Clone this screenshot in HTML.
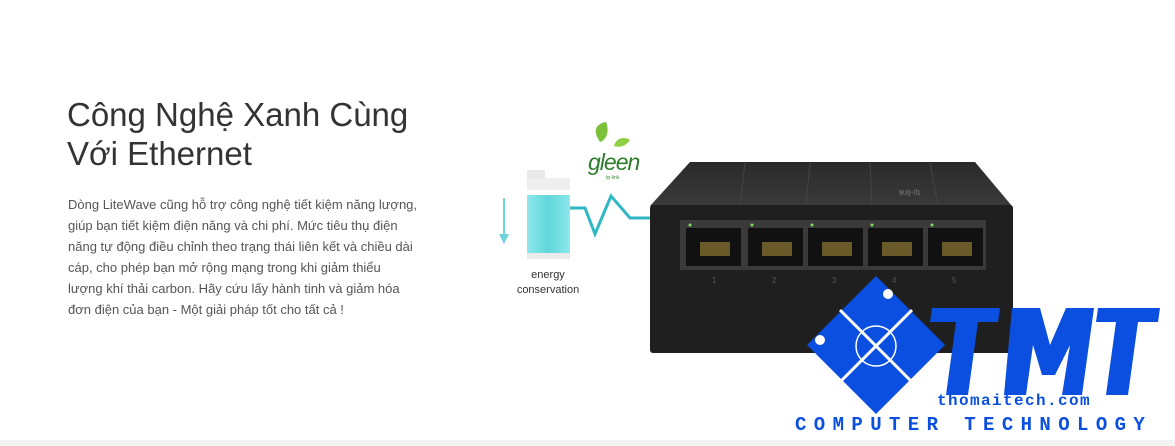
<!DOCTYPE html>
<html><head><meta charset="utf-8"><style>
body{margin:0;width:1175px;height:446px;background:#fff;position:relative;overflow:hidden;font-family:"Liberation Sans",sans-serif}
.t{position:absolute;left:67px;top:95px;font-size:33px;line-height:39px;color:#333;white-space:nowrap}
.p{position:absolute;left:68px;top:194px;font-size:13px;line-height:21px;color:#555;white-space:nowrap}
.bot{position:absolute;left:0;top:440px;width:1175px;height:6px;background:#f2f4f4}
</style></head><body>
<div class="t">Công Nghệ Xanh Cùng<br>Với Ethernet</div>
<div class="p">Dòng LiteWave cũng hỗ trợ công nghệ tiết kiệm năng lượng,<br>giúp bạn tiết kiệm điện năng và chi phí. Mức tiêu thụ điện<br>năng tự động điều chỉnh theo trạng thái liên kết và chiều dài<br>cáp, cho phép bạn mở rộng mạng trong khi giảm thiểu<br>lượng khí thải carbon. Hãy cứu lấy hành tinh và giảm hóa<br>đơn điện của bạn - Một giải pháp tốt cho tất cả !</div>
<svg width="1175" height="446" style="position:absolute;left:0;top:0">
<defs><linearGradient id="bat" x1="0" x2="1"><stop offset="0" stop-color="#8ee8ec"/><stop offset=".5" stop-color="#5fd6dc"/><stop offset="1" stop-color="#8ee8ec"/></linearGradient>
<linearGradient id="top" x1="0" y1="0" x2="0" y2="1"><stop offset="0" stop-color="#2a2a2a"/><stop offset="1" stop-color="#3a3a3a"/></linearGradient></defs>
<rect x="527" y="170" width="18" height="8" fill="#e8e8e8"/>
<rect x="527" y="178" width="43" height="12" fill="#eee"/>
<rect x="527" y="195" width="43" height="58" fill="url(#bat)"/>
<rect x="527" y="253" width="43" height="6" fill="#eaeaea"/>
<line x1="504" y1="198" x2="504" y2="238" stroke="#6dd3dc" stroke-width="2"/>
<path d="M499 234 L504 244 L509 234Z" fill="#6dd3dc"/>
<text x="548" y="278" font-size="11" fill="#333" text-anchor="middle">energy</text>
<text x="548" y="293" font-size="11" fill="#333" text-anchor="middle">conservation</text>
<polyline points="570,208 585,208 595,234 611,196 630,218 652,218" fill="none" stroke="#2fb7c4" stroke-width="3"/>
<path d="M600 142 C592 130 596 124 606 122 C610 132 606 140 600 142Z" fill="#7bbf3a"/>
<path d="M614 146 C616 138 624 136 630 140 C626 146 620 148 614 146Z" fill="#8fcf45"/>
<text x="588" y="170" font-size="23" font-style="italic" fill="#2d7d2d" letter-spacing="-1">gleen</text>
<text x="606" y="179" font-size="5" fill="#3a8a3a">tp-link</text>
<polygon points="650,206 690,162 975,162 1012,206" fill="url(#top)"/>
<g stroke="#444" stroke-width="1"><line x1="745" y1="163" x2="740" y2="205"/><line x1="810" y1="163" x2="806" y2="205"/><line x1="870" y1="163" x2="872" y2="205"/><line x1="930" y1="163" x2="938" y2="205"/></g>
<rect x="650" y="205" width="363" height="148" rx="3" fill="#1f1f1f"/>
<rect x="680" y="220" width="306" height="50" fill="#3a3a3a"/>
<g fill="#111">
<rect x="686" y="228" width="55" height="38"/><rect x="748" y="228" width="55" height="38"/><rect x="808" y="228" width="55" height="38"/><rect x="868" y="228" width="55" height="38"/><rect x="928" y="228" width="55" height="38"/>
</g>
<g fill="#6a5a2a"><rect x="700" y="242" width="30" height="14"/><rect x="762" y="242" width="30" height="14"/><rect x="822" y="242" width="30" height="14"/><rect x="882" y="242" width="30" height="14"/><rect x="942" y="242" width="30" height="14"/></g>
<g fill="#7ee05a"><circle cx="690" cy="225" r="1.5"/><circle cx="752" cy="225" r="1.5"/><circle cx="812" cy="225" r="1.5"/><circle cx="872" cy="225" r="1.5"/><circle cx="932" cy="225" r="1.5"/></g>
<g font-size="8" fill="#555"><text x="712" y="283">1</text><text x="772" y="283">2</text><text x="832" y="283">3</text><text x="892" y="283">4</text><text x="952" y="283">5</text></g>
<text x="880" y="196" font-size="8" fill="#777" transform="rotate(180 900 193)">tp-link</text>
<polygon points="876,276 945,345 876,414 807,345" fill="#0a4fe0"/>
<line x1="840" y1="310" x2="912" y2="382" stroke="#fff" stroke-width="3"/>
<line x1="912" y1="310" x2="840" y2="382" stroke="#fff" stroke-width="3"/>
<circle cx="876" cy="346" r="20" fill="none" stroke="#fff" stroke-width="1.5"/>
<circle cx="888" cy="294" r="5" fill="#fff"/><circle cx="820" cy="340" r="5" fill="#fff"/>
<g fill="#0a4fe0">
<polygon points="932,308 1000,308 998,322 978,322 968,395 946,395 956,322 930,322"/>
<polygon points="1012,308 1040,308 1050,345 1066,308 1094,308 1082,395 1062,395 1070,345 1055,375 1042,375 1033,345 1026,395 1004,395"/>
<polygon points="1098,308 1160,308 1158,322 1138,322 1128,395 1106,395 1116,322 1096,322"/>
<text x="937" y="405" font-size="16" font-family="Liberation Mono" font-weight="bold" letter-spacing="1.4">thomaitech.com</text>
<text x="795" y="430" font-size="19" font-family="Liberation Mono" font-weight="bold" letter-spacing="7.4">COMPUTER TECHNOLOGY</text>
</g>
</svg>
<div class="bot"></div>
</body></html>
